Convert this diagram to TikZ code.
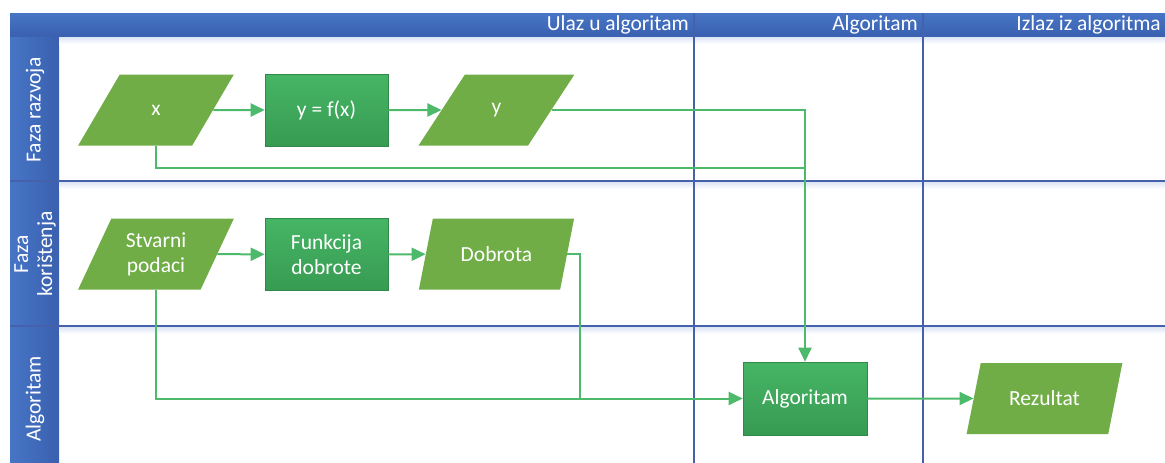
\documentclass[tikz,border=0pt]{standalone}
\usepackage{fontspec}
\setmainfont{Carlito}
\usetikzlibrary{shapes.geometric,arrows.meta,calc}

\definecolor{headBlueL}{HTML}{4775C6}
\definecolor{headBlueD}{HTML}{3A60AF}
\definecolor{gridBlue}{HTML}{4561AB}
\definecolor{glowBlue}{HTML}{DCE5F4}
\definecolor{dataGreen}{HTML}{70AD47}
\definecolor{procGreenL}{HTML}{46B565}
\definecolor{procGreenD}{HTML}{379B52}
\definecolor{procEdge}{HTML}{2F8A47}
\definecolor{flowGreen}{HTML}{4DB96B}

\tikzset{
  txt/.style={text=white, font=\fontsize{21.5}{25}\selectfont, align=center},
  data/.style={trapezium, trapezium left angle=62.5, trapezium right angle=117.5,
    trapezium stretches=true, minimum width=156pt, minimum height=71pt,
    inner sep=0pt, fill=dataGreen, txt},
  proc/.style={rectangle, minimum width=123pt, minimum height=72pt, inner sep=0pt,
    top color=procGreenL, bottom color=procGreenD, draw=procEdge, line width=0.6pt, txt},
  headlabel/.style={anchor=east, txt, inner sep=0pt},
  lanelabel/.style={rotate=90, txt, inner sep=0pt, font=\fontsize{21.5}{24}\selectfont},
  grid/.style={draw=gridBlue, line width=1.6pt},
  link/.style={draw=flowGreen, line width=2pt},
  flow/.style={link, -{Triangle[length=14pt,width=13pt]}}
}

\begin{document}
\begin{tikzpicture}[x=1pt,y=-1pt]
\useasboundingbox (0,0) rectangle (1165,463);

% swimlane frame
\shade[top color=headBlueL, bottom color=headBlueD] (10,13) rectangle (1165,37);
\shade[left color=headBlueL, right color=headBlueD] (10,37) rectangle (59,463);
\shade[top color=glowBlue, bottom color=white] (59,37) rectangle (1165,44);
\shade[top color=glowBlue, bottom color=white] (59,182) rectangle (1165,189);
\shade[top color=glowBlue, bottom color=white] (59,327) rectangle (1165,334);
\draw[grid] (10,181) -- (1165,181);
\draw[grid] (10,326) -- (1165,326);
\draw[grid] (694,13) -- (694,463);
\draw[grid] (923,13) -- (923,463);

% column headers
\node[headlabel] (hin)  at (689,25)  {Ulaz u algoritam};
\node[headlabel] (halg) at (918,25)  {Algoritam};
\node[headlabel] (hout) at (1161,25) {Izlaz iz algoritma};

% lane labels
\node[lanelabel] (lrazvoj) at (35,110) {Faza razvoja};
\node[lanelabel] (lkor)    at (35,254) {Faza\\korištenja};
\node[lanelabel] (lalg)    at (35,399) {Algoritam};

% development phase
\node[data] (x)   at (156,110)   {x};
\node[proc] (yfx) at (326.5,110) {y = f(x)};
\node[data] (y)   at (496.5,110) {y};

% usage phase
\node[data] (sp)  at (156,254)   {Stvarni\\podaci};
\node[proc] (fd)  at (326.5,254.5) {Funkcija\\dobrote};
\node[data] (dob) at (496.5,254) {Dobrota};

% algorithm lane
\node[proc, minimum width=124pt, minimum height=73pt] (alg) at (805,398.5) {Algoritam};
\node[data, minimum width=157pt] (rez) at (1044.5,398.5) {Rezultat};

% junctions
\coordinate (jx) at (alg.north |- 0,168);
\coordinate (jd) at (580,398.5);

% connectors
\draw[flow] (x) -- (yfx);
\draw[flow] (yfx) -- (y);
\draw[flow] (y) -| (alg);
\draw[link] (x.center |- x.bottom side) |- (jx);
\draw[flow] (sp) -- (fd);
\draw[flow] (fd) -- (dob);
\draw[link] (dob) -| (jd);
\draw[flow] (sp.center |- sp.bottom side) |- (alg);
\draw[flow] (alg) -- (rez);
\end{tikzpicture}
\end{document}
